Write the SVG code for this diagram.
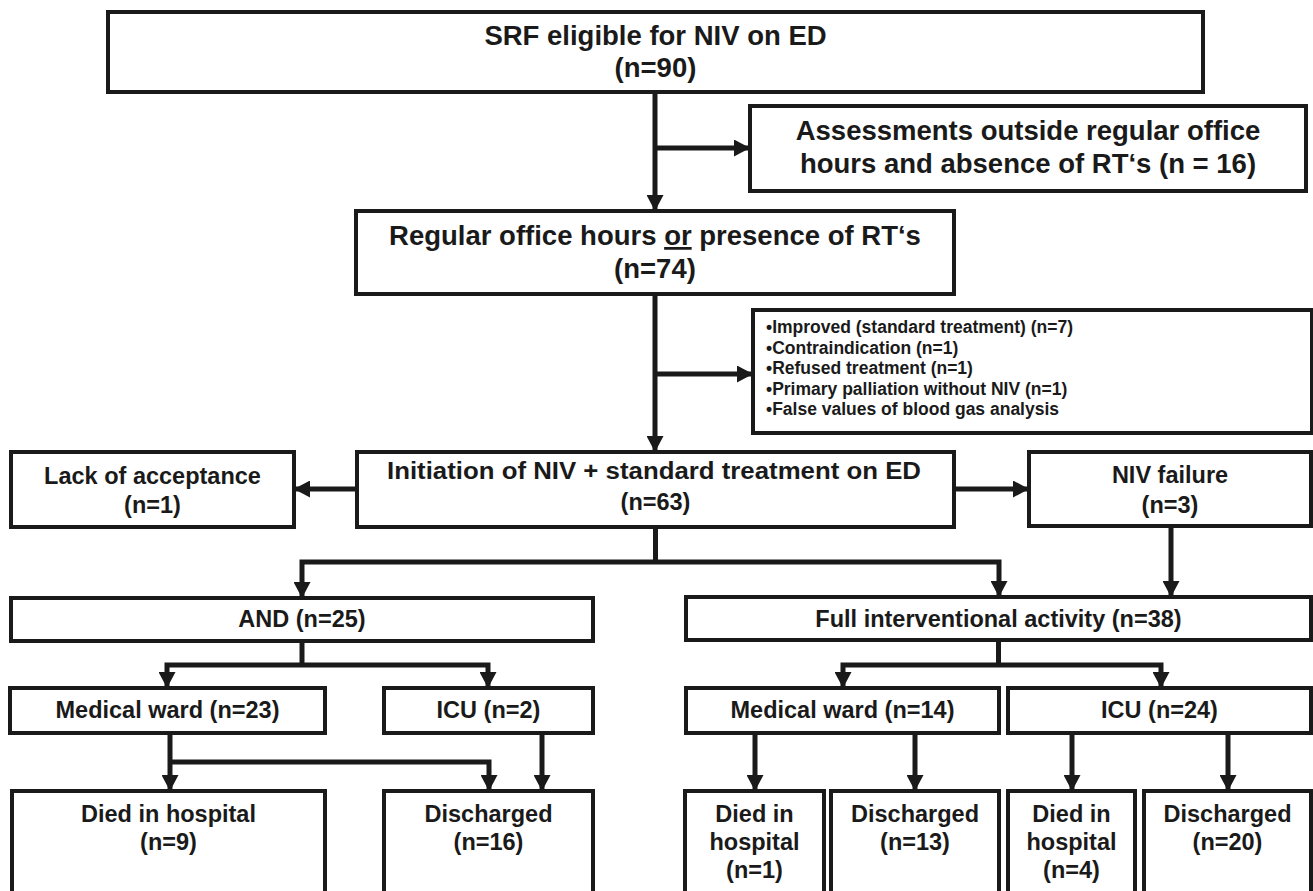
<svg xmlns="http://www.w3.org/2000/svg" width="1313" height="891" viewBox="0 0 1313 891">
<defs>
<style>
.box{fill:#fff;stroke:#1a1a1a;stroke-width:4}
.t{font-family:"Liberation Sans",Arial,sans-serif;font-weight:bold;fill:#1a1a1a;text-anchor:middle}
.big{font-size:27.5px}
.mid{font-size:23.5px}
.sm{font-size:17.5px;text-anchor:start}
.c{fill:none;stroke:#1a1a1a;stroke-width:5;stroke-linejoin:miter;stroke-linecap:butt}
</style>
<marker id="ah" markerUnits="userSpaceOnUse" markerWidth="16" markerHeight="17" refX="16" refY="8.5" orient="auto-start-reverse" viewBox="0 0 16 17">
<path d="M0,0 L16,8.5 L0,17 z" fill="#1a1a1a"/>
</marker>
</defs>
<rect width="1313" height="891" fill="#fff"/>
<g id="connectors">
<line class="c" x1="655" y1="92" x2="655" y2="211" marker-end="url(#ah)"/>
<line class="c" x1="655" y1="148" x2="750" y2="148" marker-end="url(#ah)"/>
<line class="c" x1="655" y1="294" x2="655" y2="452" marker-end="url(#ah)"/>
<line class="c" x1="655" y1="374" x2="753" y2="374" marker-end="url(#ah)"/>
<line class="c" x1="357" y1="489" x2="294" y2="489" marker-end="url(#ah)"/>
<line class="c" x1="954" y1="489" x2="1029" y2="489" marker-end="url(#ah)"/>
<line class="c" x1="655.5" y1="527" x2="655.5" y2="562"/>
<polyline class="c" points="302,598 302,562 999,562 999,597" marker-start="url(#ah)" marker-end="url(#ah)"/>
<line class="c" x1="1171" y1="526" x2="1171" y2="597" marker-end="url(#ah)"/>
<line class="c" x1="302" y1="641" x2="302" y2="665"/>
<polyline class="c" points="167,688 167,665 488,665 488,688" marker-start="url(#ah)" marker-end="url(#ah)"/>
<line class="c" x1="998.5" y1="640" x2="998.5" y2="665"/>
<polyline class="c" points="843,688 843,665 1161,665 1161,688" marker-start="url(#ah)" marker-end="url(#ah)"/>
<line class="c" x1="170" y1="733" x2="170" y2="791" marker-end="url(#ah)"/>
<polyline class="c" points="170,762 489,762 489,791" marker-end="url(#ah)"/>
<line class="c" x1="542" y1="733" x2="542" y2="791" marker-end="url(#ah)"/>
<line class="c" x1="755" y1="733" x2="755" y2="791" marker-end="url(#ah)"/>
<line class="c" x1="915" y1="733" x2="915" y2="791" marker-end="url(#ah)"/>
<line class="c" x1="1072" y1="733" x2="1072" y2="791" marker-end="url(#ah)"/>
<line class="c" x1="1228" y1="733" x2="1228" y2="791" marker-end="url(#ah)"/>
</g>
<g id="srf">
<rect class="box" x="108" y="12" width="1095" height="80"/>
<text class="t big" x="655.5" y="45">SRF eligible for NIV on ED</text>
<text class="t big" x="655.5" y="77">(n=90)</text>
</g>
<g id="assessments">
<rect class="box" x="750" y="106" width="556" height="85"/>
<text class="t big" x="1028" y="140">Assessments outside regular office</text>
<text class="t big" x="1028" y="173">hours and absence of RT‘s (n = 16)</text>
</g>
<g id="regular">
<rect class="box" x="356" y="211" width="598" height="83"/>
<text class="t big" x="655" y="245">Regular office hours <tspan text-decoration="underline">or</tspan> presence of RT‘s</text>
<text class="t big" x="655" y="278">(n=74)</text>
</g>
<g id="excluded">
<rect class="box" x="753" y="310" width="559" height="123"/>
<text class="t sm" x="766" y="333">•Improved (standard treatment) (n=7)</text>
<text class="t sm" x="766" y="353.5">•Contraindication (n=1)</text>
<text class="t sm" x="766" y="374">•Refused treatment (n=1)</text>
<text class="t sm" x="766" y="394.5">•Primary palliation without NIV (n=1)</text>
<text class="t sm" x="766" y="415">•False values of blood gas analysis</text>
</g>
<g id="lack">
<rect class="box" x="11" y="452" width="283" height="75"/>
<text class="t mid" x="152.5" y="484">Lack of acceptance</text>
<text class="t mid" x="152.5" y="513">(n=1)</text>
</g>
<g id="initiation">
<rect class="box" x="357" y="452" width="597" height="75"/>
<text class="t mid" x="654" y="479" textLength="534" lengthAdjust="spacingAndGlyphs">Initiation of NIV + standard treatment on ED</text>
<text class="t mid" x="655.5" y="510">(n=63)</text>
</g>
<g id="nivfailure">
<rect class="box" x="1029" y="452" width="282" height="74"/>
<text class="t mid" x="1170" y="483">NIV failure</text>
<text class="t mid" x="1170" y="513">(n=3)</text>
</g>
<g id="and">
<rect class="box" x="11" y="598" width="582" height="43"/>
<text class="t mid" x="302" y="627">AND (n=25)</text>
</g>
<g id="full">
<rect class="box" x="686" y="597" width="625" height="43"/>
<text class="t mid" x="998.5" y="627">Full interventional activity (n=38)</text>
</g>
<g id="mw23">
<rect class="box" x="10" y="688" width="315" height="45"/>
<text class="t mid" x="167.5" y="718">Medical ward (n=23)</text>
</g>
<g id="icu2">
<rect class="box" x="384" y="688" width="209" height="45"/>
<text class="t mid" x="488.5" y="718">ICU (n=2)</text>
</g>
<g id="mw14">
<rect class="box" x="686" y="688" width="313" height="45"/>
<text class="t mid" x="842.5" y="718">Medical ward (n=14)</text>
</g>
<g id="icu24">
<rect class="box" x="1008" y="688" width="303" height="45"/>
<text class="t mid" x="1159.5" y="718">ICU (n=24)</text>
</g>
<g id="died9">
<rect class="box" x="12" y="791" width="313" height="110"/>
<text class="t mid" x="168.5" y="822">Died in hospital</text>
<text class="t mid" x="168.5" y="850">(n=9)</text>
</g>
<g id="disc16">
<rect class="box" x="384" y="791" width="209" height="110"/>
<text class="t mid" x="488.5" y="822">Discharged</text>
<text class="t mid" x="488.5" y="850">(n=16)</text>
</g>
<g id="died1">
<rect class="box" x="685" y="791" width="139" height="110"/>
<text class="t mid" x="754.5" y="822">Died in</text>
<text class="t mid" x="754.5" y="850">hospital</text>
<text class="t mid" x="754.5" y="878">(n=1)</text>
</g>
<g id="disc13">
<rect class="box" x="831" y="791" width="168" height="110"/>
<text class="t mid" x="915" y="822">Discharged</text>
<text class="t mid" x="915" y="850">(n=13)</text>
</g>
<g id="died4">
<rect class="box" x="1008" y="791" width="127" height="110"/>
<text class="t mid" x="1071.5" y="822">Died in</text>
<text class="t mid" x="1071.5" y="850">hospital</text>
<text class="t mid" x="1071.5" y="878">(n=4)</text>
</g>
<g id="disc20">
<rect class="box" x="1144" y="791" width="167" height="110"/>
<text class="t mid" x="1227.5" y="822">Discharged</text>
<text class="t mid" x="1227.5" y="850">(n=20)</text>
</g>
</svg>
